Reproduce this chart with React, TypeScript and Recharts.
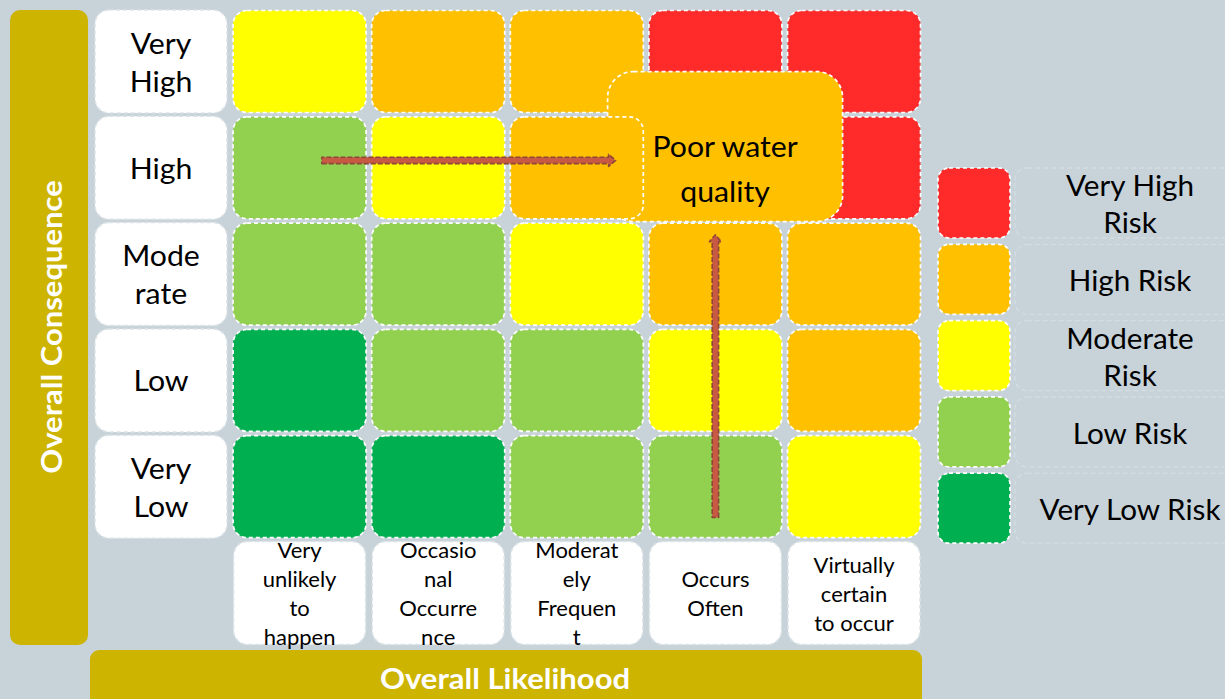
import React from 'react';
import { ScatterChart, Scatter, XAxis, YAxis, Customized } from 'recharts';

// ---------- data ----------
const likelihoodLabels: string[][] = [
  ['Very', 'unlikely', 'to', 'happen'],
  ['Occasio', 'nal', 'Occurre', 'nce'],
  ['Moderat', 'ely', 'Frequen', 't'],
  ['Occurs', 'Often'],
  ['Virtually', 'certain', 'to occur'],
];
const consequenceLabels: string[][] = [
  ['Very', 'Low'],
  ['Low'],
  ['Mode', 'rate'],
  ['High'],
  ['Very', 'High'],
];
const riskLevels = ['Very Low Risk', 'Low Risk', 'Moderate Risk', 'High Risk', 'Very High Risk'];
const riskLegendLines: string[][] = [['Very Low Risk'], ['Low Risk'], ['Moderate', 'Risk'], ['High Risk'], ['Very High', 'Risk']];
const riskColors = ['#00B050', '#92D050', '#FFFF00', '#FFC000', '#FF2B2B'];
// rows: consequence Very Low .. Very High ; columns: likelihood 1..5 ; value = risk level index
const riskMatrix: number[][] = [
  [0, 0, 1, 1, 2],
  [0, 1, 1, 2, 3],
  [1, 1, 2, 3, 3],
  [1, 2, 3, 3, 4],
  [2, 3, 3, 4, 4],
];
// cells drawn above the hazard box: [likelihood, consequence]
const raisedCells: number[][] = [[3, 4], [4, 3], [5, 3]];
const hazards = [{ name: ['Poor water', 'quality'], likelihood: 4.07, consequence: 4.2 }];
const arrows = [
  { x1: 1.16, y1: 4.07, x2: 3.28, y2: 4.07 },
  { x1: 4.0, y1: 0.71, x2: 4.0, y2: 3.37 },
];
const axisTitles = { x: 'Overall Likelihood', y: 'Overall Consequence' };

// ---------- styles ----------
const BG = '#C7D2D9';
const GOLD = '#CDB400';
const FONT = 'Lato, "Open Sans", sans-serif';
const CELL_W = 133;
const CELL_H = 102;

const isRaised = (x: number, y: number) => raisedCells.some(([a, b]) => a === x && b === y);
const cellData = riskMatrix.flatMap((row, ci) =>
  row.map((r, li) => ({ x: li + 1, y: ci + 1, risk: r }))
);
const baseCells = cellData.filter((d) => !isRaised(d.x, d.y));
const topCells = cellData.filter((d) => isRaised(d.x, d.y));
const labelData = [
  ...consequenceLabels.map((l, i) => ({ x: 0, y: i + 1, lines: l, kind: 'row' })),
  ...likelihoodLabels.map((l, i) => ({ x: i + 1, y: 0, lines: l, kind: 'col' })),
];
const hazardData = hazards.map((h) => ({ x: h.likelihood, y: h.consequence, lines: h.name }));

const MultiText = ({ x, y, lines, size, lh, fill = '#000', weight = 400, sx = 1 }: any) => {
  const n = lines.length;
  return (
    <g transform={`translate(${x},${y}) scale(${sx},1)`}>
      <text textAnchor="middle" fontFamily={FONT} fontSize={size} fontWeight={weight} fill={fill}>
        {lines.map((t: string, i: number) => (
          <tspan key={i} x={0} y={(i - (n - 1) / 2) * lh} dominantBaseline="central">
            {t}
          </tspan>
        ))}
      </text>
    </g>
  );
};

const CellShape = (p: any) => {
  const { cx, cy, payload } = p;
  return (
    <rect
      x={cx - CELL_W / 2}
      y={cy - CELL_H / 2}
      width={CELL_W}
      height={CELL_H}
      rx={14}
      fill={riskColors[payload.risk]}
      stroke="#FFFFFF"
      strokeWidth={1.7}
      strokeDasharray="4 3"
    />
  );
};

const LabelShape = (p: any) => {
  const { cx, cy, payload } = p;
  const isRow = payload.kind === 'row';
  return (
    <g>
      <rect
        x={cx - 66}
        y={cy - 51.5}
        width={132}
        height={103}
        rx={14}
        fill="#FFFFFF"
        stroke="#DCE3E7"
        strokeWidth={1.5}
        strokeDasharray="4 3"
      />
      {isRow ? (
        <MultiText x={cx} y={cy} lines={payload.lines} size={28} lh={38} sx={1.08} />
      ) : (
        <MultiText x={cx} y={cy} lines={payload.lines} size={22} lh={29} sx={1.0} />
      )}
    </g>
  );
};

const HazardShape = (p: any) => {
  const { cx, cy, payload } = p;
  return (
    <g>
      <rect
        x={cx - 117.5}
        y={cy - 75}
        width={235}
        height={150}
        rx={26}
        fill="#FFC000"
        stroke="#FFFFFF"
        strokeWidth={1.7}
        strokeDasharray="4 3"
      />
      <MultiText x={cx} y={cy + 22} lines={payload.lines} size={28} lh={45} sx={1.08} />
    </g>
  );
};

const Empty = () => <g />;

const ArrowLine = (p: any) => {
  const pts = p.points || [];
  if (pts.length < 2) return null;
  const { x: x1, y: y1 } = pts[0];
  const { x: x2, y: y2 } = pts[pts.length - 1];
  const dx = x2 - x1;
  const dy = y2 - y1;
  const len = Math.hypot(dx, dy) || 1;
  const ux = dx / len;
  const uy = dy / len;
  const px = -uy;
  const py = ux;
  const head = 7;
  const hw = 6;
  const sw = 3.2;
  const bx = x2 - ux * head;
  const by = y2 - uy * head;
  const P = (x: number, y: number) => `${x.toFixed(1)},${y.toFixed(1)}`;
  const poly = [
    P(x1 + px * sw, y1 + py * sw),
    P(bx + px * sw, by + py * sw),
    P(bx + px * hw, by + py * hw),
    P(x2, y2),
    P(bx - px * hw, by - py * hw),
    P(bx - px * sw, by - py * sw),
    P(x1 - px * sw, y1 - py * sw),
  ].join(' ');
  return (
    <g>
      <polygon points={poly} fill="#C85A44" stroke="#8E4636" strokeWidth={1.6} strokeDasharray="5 2" strokeLinejoin="round" />
    </g>
  );
};

const Decor = () => (
  <g>
    <rect x={10} y={10} width={78} height={635} rx={10} fill={GOLD} />
    <g transform="translate(50,327) rotate(-90) scale(1.07,1)">
      <text textAnchor="middle" dominantBaseline="central" fontFamily={FONT} fontSize={29} fontWeight={700} fill="#FFFFFF">
        {axisTitles.y}
      </text>
    </g>
    <rect x={90} y={650} width={832} height={60} rx={9} fill={GOLD} />
    <g transform="translate(505,677) scale(1.07,1)">
      <text textAnchor="middle" dominantBaseline="central" fontFamily={FONT} fontSize={29} fontWeight={700} fill="#FFFFFF">
        {axisTitles.x}
      </text>
    </g>
    {riskLevels
      .map((r, i) => ({ r, i }))
      .reverse()
      .map(({ r, i }, k) => {
        const top = 168 + k * 76.3;
        return (
          <g key={r}>
            <rect x={1015} y={top} width={230} height={70} rx={12} fill="none" stroke="#D3DDE2" strokeWidth={1.3} strokeDasharray="5 3" />
            <rect x={938} y={top} width={72} height={70} rx={11} fill={riskColors[i]} stroke="#FFFFFF" strokeWidth={1.7} strokeDasharray="4 3" />
            <MultiText x={1130} y={top + 36} lines={riskLegendLines[i]} size={28} lh={37.5} sx={1.06} />
          </g>
        );
      })}
  </g>
);

export default function App() {
  return (
    <div style={{ width: 1225, height: 699, background: BG, overflow: 'hidden' }}>
      <style>{`body{margin:0;}`}</style>
      <ScatterChart width={1225} height={699} margin={{ top: 61.5, right: 371, bottom: 106, left: 161 }}>
        <XAxis type="number" dataKey="x" domain={[0, 5]} hide />
        <YAxis type="number" dataKey="y" domain={[0, 5]} hide />
        <Customized component={<Decor />} />
        <Scatter data={labelData} shape={<LabelShape />} isAnimationActive={false} />
        <Scatter data={baseCells} shape={<CellShape />} isAnimationActive={false} />
        <Scatter data={hazardData} shape={<HazardShape />} isAnimationActive={false} />
        <Scatter data={topCells} shape={<CellShape />} isAnimationActive={false} />
        {arrows.map((a, i) => (
          <Scatter
            key={i}
            data={[{ x: a.x1, y: a.y1 }, { x: a.x2, y: a.y2 }]}
            shape={<Empty />}
            line={<ArrowLine />}
            isAnimationActive={false}
          />
        ))}
      </ScatterChart>
    </div>
  );
}
